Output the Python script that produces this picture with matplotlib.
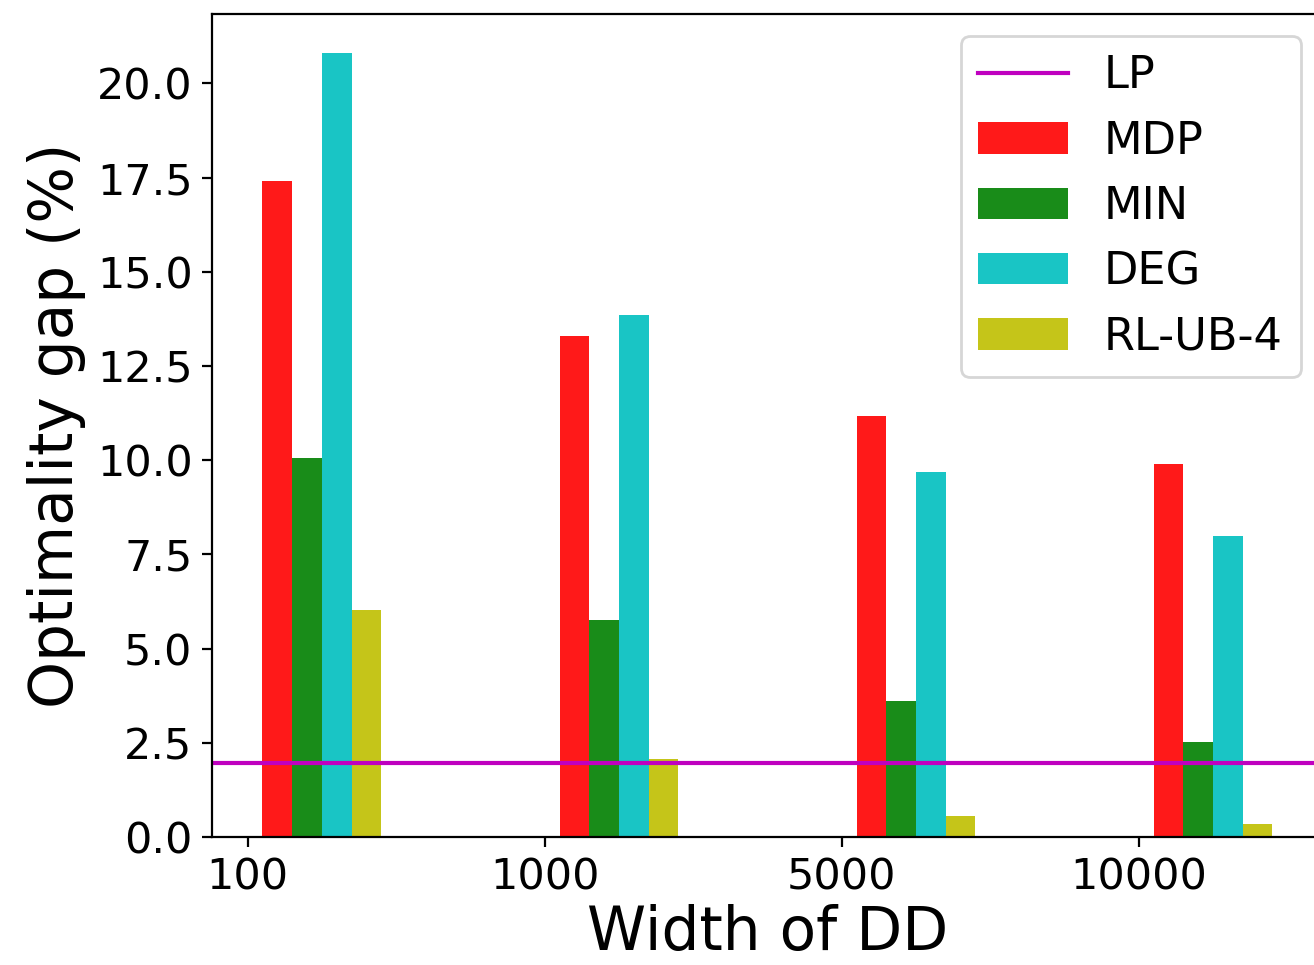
import numpy as np
import matplotlib
matplotlib.use("Agg")
import matplotlib.pyplot as plt

# DD widths and optimality gaps (%) per ordering heuristic
widths = ["100", "1000", "5000", "10000"]
mdp = [17.42, 13.31, 11.17, 9.91]
min_ = [10.06, 5.77, 3.62, 2.53]
deg = [20.80, 13.86, 9.70, 7.99]
rl_ub_4 = [6.02, 2.06, 0.57, 0.34]
lp_gap = 1.96

series = [("MDP", mdp, "r"), ("MIN", min_, "g"), ("DEG", deg, "c"), ("RL-UB-4", rl_ub_4, "y")]

fig = plt.figure(figsize=(6.57, 4.825), dpi=200)
ax = fig.add_axes([0.1613, 0.1326, 0.8455, 0.8528])

ax.axhline(lp_gap, color="m", lw=1.5, label="LP")

x = np.arange(len(widths))
bw = 0.1
for i, (name, vals, col) in enumerate(series):
    ax.bar(x + bw * (i + 1), vals, width=bw, color=col, alpha=0.9, label=name)

ax.set_xticks(x)
ax.set_xticklabels(widths)
ax.tick_params(labelsize=15.5)
ax.set_xlabel("Width of DD", fontsize=21.5, labelpad=2)
ax.set_ylabel("Optimality gap (%)", fontsize=21.5)
ax.legend(loc="upper right", fontsize=16.1)

fig.savefig("out.png", dpi=200)
